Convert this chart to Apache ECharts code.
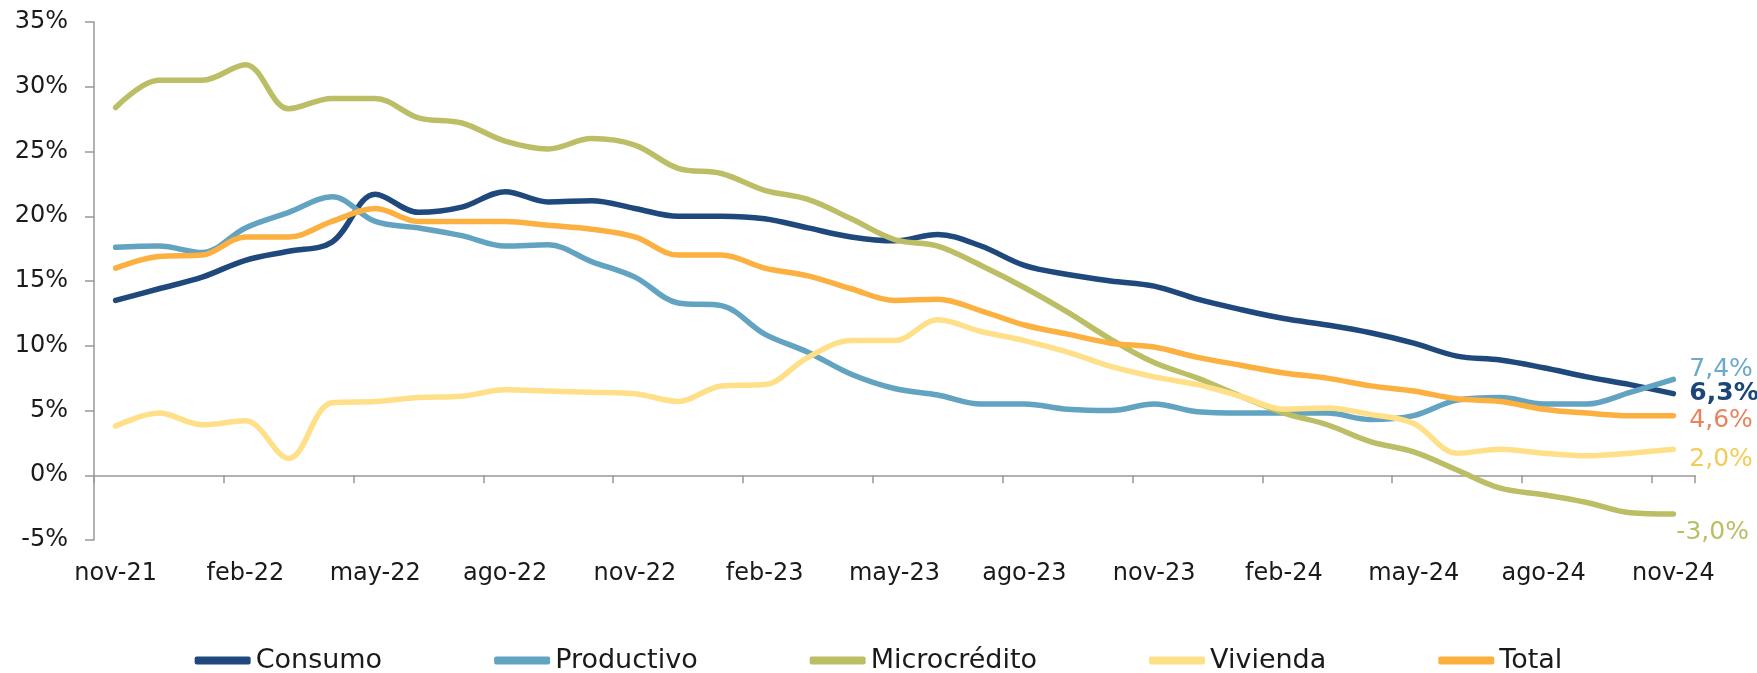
<!DOCTYPE html>
<html>
<head>
<meta charset="utf-8">
<script src="https://cdn.jsdelivr.net/npm/echarts@6/dist/echarts.min.js"></script>
<style>
  html, body { margin: 0; padding: 0; background: #fff; }
  #chart { width: 1757px; height: 673px; }
</style>
</head>
<body>
<div id="chart"></div>
<script>
const months = [
  'nov-21', 'dic-21', 'ene-22', 'feb-22', 'mar-22', 'abr-22', 'may-22', 'jun-22', 'jul-22', 'ago-22', 'sep-22', 'oct-22',
  'nov-22', 'dic-22', 'ene-23', 'feb-23', 'mar-23', 'abr-23', 'may-23', 'jun-23', 'jul-23', 'ago-23', 'sep-23', 'oct-23',
  'nov-23', 'dic-23', 'ene-24', 'feb-24', 'mar-24', 'abr-24', 'may-24', 'jun-24', 'jul-24', 'ago-24', 'sep-24', 'oct-24',
  'nov-24'
]

const consumo = [13.5, 14.4, 15.3, 16.6, 17.3, 18.0, 21.7, 20.3, 20.7, 21.9, 21.1, 21.2,
  20.6, 20.0, 20.0, 19.8, 19.1, 18.4, 18.1, 18.6, 17.7, 16.2, 15.5, 15.0,
  14.6, 13.6, 12.8, 12.1, 11.6, 11.0, 10.2, 9.2, 8.9, 8.3, 7.6, 7.0, 6.3]
const productivo = [17.6, 17.7, 17.2, 19.1, 20.3, 21.5, 19.6, 19.1, 18.5, 17.7, 17.8, 16.5,
  15.3, 13.3, 13.1, 10.9, 9.5, 7.8, 6.7, 6.2, 5.5, 5.5, 5.1, 5.0,
  5.5, 4.9, 4.8, 4.8, 4.8, 4.3, 4.6, 5.8, 6.0, 5.5, 5.5, 6.4, 7.4]
const microcredito = [28.4, 30.5, 30.5, 31.7, 28.3, 29.1, 29.1, 27.6, 27.2, 25.8, 25.2, 26.0,
  25.5, 23.7, 23.3, 22.0, 21.3, 19.8, 18.2, 17.7, 16.2, 14.5, 12.6, 10.5,
  8.7, 7.5, 6.1, 4.8, 3.9, 2.6, 1.8, 0.4, -1.0, -1.5, -2.1, -2.9, -3.0]
const vivienda = [3.8, 4.8, 3.9, 4.2, 1.3, 5.6, 5.7, 6.0, 6.1, 6.6, 6.5, 6.4,
  6.3, 5.7, 6.9, 7.0, 9.1, 10.4, 10.4, 12.0, 11.1, 10.4, 9.5, 8.4,
  7.6, 7.0, 6.1, 5.1, 5.2, 4.7, 4.0, 1.7, 2.0, 1.7, 1.5, 1.7, 2.0]
const total = [16.0, 16.9, 17.0, 18.4, 18.4, 19.6, 20.6, 19.6, 19.6, 19.6, 19.3, 19.0,
  18.4, 17.0, 17.0, 16.0, 15.4, 14.4, 13.5, 13.6, 12.7, 11.6, 10.9, 10.2,
  9.9, 9.1, 8.5, 7.9, 7.5, 6.9, 6.5, 5.9, 5.7, 5.1, 4.8, 4.6, 4.6]

const fontFamily = '"DejaVu Sans", sans-serif'
const axisColor = '#999'

// name, data, line colour, end label colour, end label offset, weight
const lines = [
  ['Consumo', consumo, '#1f497d', '#1c4677', [16, 0], 'bold'],
  ['Productivo', productivo, '#62a3c1', '#6aaaca', [16, -10], 'normal'],
  ['Microcrédito', microcredito, '#bcbe66', '#bcbe66', [3, 18], 'normal'],
  ['Vivienda', vivienda, '#ffdf88', '#f1cd55', [16, 10], 'normal'],
  ['Total', total, '#fcb040', '#e9835e', [16, 5], 'normal']
]

const chart = echarts.init(document.getElementById('chart'))

chart.setOption({
  animation: false,
  textStyle: { fontFamily },
  grid: {
    left: 94,
    right: 62,
    top: 22,
    bottom: 133,
    containLabel: false
  },
  legend: {
    top: 642,
    left: 'center',
    icon: 'roundRect',
    itemWidth: 56,
    itemHeight: 8,
    itemGap: 112,
    textStyle: { fontSize: 27, color: '#1a1a1a', fontFamily }
  },
  xAxis: {
    type: 'category',
    data: months,
    boundaryGap: true,
    axisLine: { show: true, onZero: true, lineStyle: { color: axisColor, width: 1.5 } },
    axisTick: { show: true, interval: 2, length: 8, lineStyle: { color: axisColor, width: 1.5 } },
    axisLabel: { interval: 2, margin: 22, fontSize: 24, color: '#1a1a1a' },
    splitLine: { show: false }
  },
  yAxis: {
    type: 'value',
    min: -5,
    max: 35,
    interval: 5,
    axisLine: { show: true, lineStyle: { color: axisColor, width: 1.5 } },
    axisTick: { show: true, length: 9, lineStyle: { color: axisColor, width: 1.5 } },
    axisLabel: { formatter: '{value}%', margin: 26, fontSize: 24, color: '#1a1a1a' },
    splitLine: { show: false }
  },
  series: lines.map(([name, data, color, labelColor, offset, weight]) => ({
    name,
    type: 'line',
    data,
    smooth: 0.35,
    symbol: 'none',
    lineStyle: { color, width: 5.5, cap: 'round' },
    itemStyle: { color },
    endLabel: {
      show: true,
      distance: 0,
      offset,
      align: 'left',
      fontSize: 25,
      fontWeight: weight,
      color: labelColor,
      formatter: p => p.value.toFixed(1).replace('.', ',') + '%'
    }
  }))
})
</script>
</body>
</html>
